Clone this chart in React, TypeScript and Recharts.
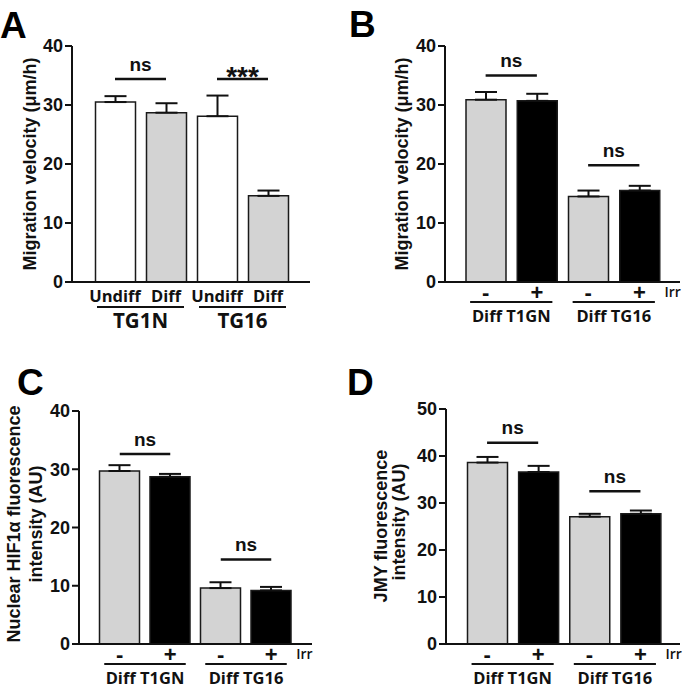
import React from 'react';
import { BarChart, Bar, XAxis, YAxis, Cell, ErrorBar, ReferenceLine } from 'recharts';

const SANS = "'Liberation Sans', Arial, sans-serif";
const CAT_FONT = "'Open Sans', 'Liberation Sans', sans-serif";
const INK = '#111111';

// ---------- Panel A ----------
const aKeys = ['TG1N Undiff', 'TG1N Diff', 'TG16 Undiff', 'TG16 Diff'];
const aTickLabels = ['Undiff', 'Diff', 'Undiff', 'Diff'];
const aGroupLabels = ['TG1N', 'TG16'];
const aMeans = [30.5, 28.7, 28.1, 14.6];
const aErrors = [1.0, 1.6, 3.5, 0.9];
const aYTicks = [0, 10, 20, 30, 40];
const aSig = [
  { from: 0, to: 1, y: 34.4, label: 'ns' },
  { from: 2, to: 3, y: 34.4, label: '***' },
];

// ---------- Panels B, C, D (irradiation) ----------
const irrKeys = ['Diff T1GN -', 'Diff T1GN +', 'Diff TG16 -', 'Diff TG16 +'];
const irrTickLabels = ['-', '+', '-', '+'];
const irrGroupLabels = ['Diff T1GN', 'Diff TG16'];

const bMeans = [30.9, 30.7, 14.5, 15.5];
const bErrors = [1.3, 1.2, 1.0, 0.8];
const bYTicks = [0, 10, 20, 30, 40];
const bSig = [
  { from: 0, to: 1, y: 35.0, label: 'ns' },
  { from: 2, to: 3, y: 19.8, label: 'ns' },
];

const cMeans = [29.7, 28.7, 9.6, 9.2];
const cErrors = [1.0, 0.5, 1.0, 0.6];
const cYTicks = [0, 10, 20, 30, 40];
const cSig = [
  { from: 0, to: 1, y: 32.6, label: 'ns' },
  { from: 2, to: 3, y: 14.5, label: 'ns' },
];

const dMeans = [38.6, 36.6, 27.1, 27.7];
const dErrors = [1.2, 1.3, 0.6, 0.7];
const dYTicks = [0, 10, 20, 30, 40, 50];
const dSig = [
  { from: 0, to: 1, y: 42.8, label: 'ns' },
  { from: 2, to: 3, y: 32.5, label: 'ns' },
];

// ---------- styles ----------
const FILLS_A = ['#ffffff', '#d3d3d3', '#ffffff', '#d3d3d3'];
const FILLS_IRR = ['#d3d3d3', '#000000', '#d3d3d3', '#000000'];

type Sig = { from: number; to: number; y: number; label: string };
type LabelLine = { text: string; x: number; y: number };
type Cfg = {
  left: number; top: number; width: number; height: number;
  margin: { top: number; right: number; bottom: number; left: number };
  yw: number; xh: number; padL: number; padR: number;
  domain: [number, number]; ticks: number[];
  keys: string[]; means: number[]; errors: number[];
  tickLabels: string[]; groupLabels: string[];
  fills: string[]; sig: Sig[]; kind: 'A' | 'irr';
  yLabel: LabelLine[];
};

const YLabel = ({ lines }: { lines: LabelLine[] }) => (
  <g>
    {lines.map((l) => (
      <text
        key={l.text}
        x={l.x}
        y={l.y}
        transform={`rotate(-90, ${l.x}, ${l.y})`}
        textAnchor="middle"
        dominantBaseline="central"
        fontFamily={SANS}
        fontWeight={700}
        fontSize={18}
        fill={INK}
      >
        {l.text}
      </text>
    ))}
  </g>
);

const SigLabel = (props: any) => {
  const vb = props.viewBox || {};
  const cx = (vb.x ?? 0) + (vb.width ?? 0) / 2;
  const y = vb.y ?? 0;
  const star = props.text === '***';
  return (
    <text
      x={cx}
      y={star ? y + 7 : y - 8.5}
      textAnchor="middle"
      fontFamily={SANS}
      fontWeight={700}
      fontSize={star ? 28 : 19}
      fill={INK}
    >
      {props.text}
    </text>
  );
};

const XTick = (props: any) => {
  const { x, y, payload, cfg } = props;
  const i: number = props.index ?? payload?.index ?? 0;
  const plotW = cfg.width - cfg.margin.left - cfg.margin.right - cfg.yw;
  const half: number = payload?.offset ?? (plotW - cfg.padL - cfg.padR) / 8;
  const g = Math.floor(i / 2);
  if (cfg.kind === 'A') {
    return (
      <g>
        <text x={x} y={y + 20} textAnchor="middle" fontFamily={CAT_FONT} fontWeight={700} fontSize={16.5} fill={INK}>
          {cfg.tickLabels[i]}
        </text>
        {i % 2 === 0 && (
          <g>
            <line x1={x - 18} x2={x + 2 * half + 18} y1={y + 25} y2={y + 25} stroke={INK} strokeWidth={1.8} />
            <text x={x + half} y={y + 46} textAnchor="middle" fontFamily={CAT_FONT} fontWeight={700} fontSize={20.5} fill={INK}>
              {cfg.groupLabels[g]}
            </text>
          </g>
        )}
      </g>
    );
  }
  return (
    <g>
      <text x={x} y={y + 18} textAnchor="middle" fontFamily={SANS} fontWeight={700} fontSize={22} fill={INK}>
        {cfg.tickLabels[i]}
      </text>
      {i % 2 === 0 && (
        <g>
          <line x1={x - 15.5} x2={x + 2 * half + 15.5} y1={y + 20} y2={y + 20} stroke={INK} strokeWidth={1.8} />
          <text x={x + half} y={y + 40} textAnchor="middle" fontFamily={CAT_FONT} fontWeight={700} fontSize={16.5} fill={INK}>
            {cfg.groupLabels[g]}
          </text>
        </g>
      )}
      {i === 3 && (
        <text x={x + 25} y={y + 15} textAnchor="start" fontFamily={CAT_FONT} fontWeight={600} fontSize={14} fill={INK}>
          Irr
        </text>
      )}
    </g>
  );
};

const Panel = ({ cfg }: { cfg: Cfg }) => {
  const rows = cfg.keys.map((k, i) => ({ key: k, value: cfg.means[i], err: [0, cfg.errors[i]] }));
  return (
    <div style={{ position: 'absolute', left: cfg.left, top: cfg.top }}>
      <BarChart width={cfg.width} height={cfg.height} data={rows} margin={cfg.margin} barSize={40}>
        <XAxis
          dataKey="key"
          type="category"
          height={cfg.xh}
          padding={{ left: cfg.padL, right: cfg.padR }}
          axisLine={{ stroke: INK, strokeWidth: 2 }}
          tickLine={false}
          tickSize={0}
          tickMargin={0}
          interval={0}
          tick={(p: any) => <XTick {...p} cfg={cfg} />}
        />
        <YAxis
          type="number"
          domain={cfg.domain}
          ticks={cfg.ticks}
          interval={0}
          width={cfg.yw}
          axisLine={{ stroke: INK, strokeWidth: 2 }}
          tickLine={{ stroke: INK, strokeWidth: 2 }}
          tickSize={7}
          tickMargin={2}
          tick={{ fill: INK, fontFamily: SANS, fontWeight: 700, fontSize: 18 }}
          label={() => <YLabel lines={cfg.yLabel} />}
        />
        <Bar dataKey="value" isAnimationActive={false} stroke="#1a1a1a" strokeWidth={1.5}>
          {rows.map((r, i) => (
            <Cell key={r.key} fill={cfg.fills[i]} />
          ))}
          <ErrorBar dataKey="err" width={11} strokeWidth={2} stroke={INK} direction="y" isAnimationActive={false} />
        </Bar>
        {cfg.sig.map((s) => (
          <ReferenceLine
            key={`${s.from}-${s.to}`}
            segment={[
              { x: cfg.keys[s.from], y: s.y },
              { x: cfg.keys[s.to], y: s.y },
            ]}
            stroke={INK}
            strokeWidth={2.5}
            label={(p: any) => <SigLabel {...p} text={s.label} />}
          />
        ))}
      </BarChart>
    </div>
  );
};

const panels: Cfg[] = [
  {
    left: 0, top: 0, width: 340, height: 340,
    margin: { top: 46, right: 30, bottom: 0, left: 0 },
    yw: 72, xh: 58, padL: 17.5, padR: 16.5,
    domain: [0, 40], ticks: aYTicks,
    keys: aKeys, means: aMeans, errors: aErrors,
    tickLabels: aTickLabels, groupLabels: aGroupLabels,
    fills: FILLS_A, sig: aSig, kind: 'A',
    yLabel: [{ text: 'Migration velocity (μm/h)', x: 30, y: 164 }],
  },
  {
    left: 340, top: 0, width: 345, height: 340,
    margin: { top: 46, right: 5, bottom: 0, left: 0 },
    yw: 105, xh: 58, padL: 15, padR: 15,
    domain: [0, 40], ticks: bYTicks,
    keys: irrKeys, means: bMeans, errors: bErrors,
    tickLabels: irrTickLabels, groupLabels: irrGroupLabels,
    fills: FILLS_IRR, sig: bSig, kind: 'irr',
    yLabel: [{ text: 'Migration velocity (μm/h)', x: 61.5, y: 164 }],
  },
  {
    left: 0, top: 340, width: 340, height: 351,
    margin: { top: 71, right: 28, bottom: 0, left: 0 },
    yw: 79, xh: 47, padL: 15.5, padR: 15.5,
    domain: [0, 40], ticks: cYTicks,
    keys: irrKeys, means: cMeans, errors: cErrors,
    tickLabels: irrTickLabels, groupLabels: irrGroupLabels,
    fills: FILLS_IRR, sig: cSig, kind: 'irr',
    yLabel: [
      { text: 'Nuclear HIF1α fluorescence', x: 14, y: 184 },
      { text: 'intensity (AU)', x: 36, y: 184 },
    ],
  },
  {
    left: 340, top: 340, width: 345, height: 351,
    margin: { top: 69, right: 5, bottom: 0, left: 0 },
    yw: 106, xh: 47, padL: 15.5, padR: 14,
    domain: [0, 50], ticks: dYTicks,
    keys: irrKeys, means: dMeans, errors: dErrors,
    tickLabels: irrTickLabels, groupLabels: irrGroupLabels,
    fills: FILLS_IRR, sig: dSig, kind: 'irr',
    yLabel: [
      { text: 'JMY fluorescence', x: 41, y: 186 },
      { text: 'intensity (AU)', x: 59, y: 182 },
    ],
  },
];

const panelLetters = [
  { t: 'A', x: 0, y: 38 },
  { t: 'B', x: 349, y: 37 },
  { t: 'C', x: 17, y: 395 },
  { t: 'D', x: 347, y: 395 },
];

export default function App() {
  return (
    <div style={{ position: 'absolute', left: 0, top: 0, width: 685, height: 691, background: '#fff', overflow: 'hidden' }}>
      {panels.map((p, i) => (
        <Panel key={i} cfg={p} />
      ))}
      <svg width={685} height={691} style={{ position: 'absolute', left: 0, top: 0, pointerEvents: 'none' }}>
        {panelLetters.map((l) => (
          <text key={l.t} x={l.x} y={l.y} fontFamily={SANS} fontWeight={700} fontSize={37} fill="#000">
            {l.t}
          </text>
        ))}
      </svg>
    </div>
  );
}
